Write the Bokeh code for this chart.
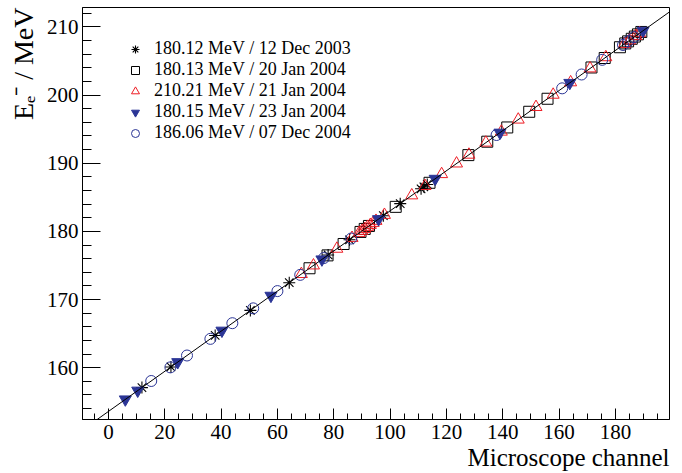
from bokeh.plotting import figure
from bokeh.models import Range1d, FixedTicker, Slope, Legend, LegendItem, Title
from bokeh.embed import file_html
from bokeh.resources import INLINE

# Calibration points: microscope channel vs. beam energy, one list pair per run
star_ch = [11.9, 22.2, 37.9, 50.4, 64.2, 78.0, 85.6, 97.6, 103.6, 111.0, 112.0, 113.2]
star_e = [157.08, 160.11, 164.73, 168.41, 172.47, 176.54, 178.77, 182.30, 184.07, 186.25, 186.54, 186.89]

square_ch = [71.4, 77.8, 83.5, 89.5, 91.0, 92.5, 102.0, 114.0, 127.8, 134.5, 141.6, 149.4,
             155.9, 171.5, 176.2, 181.6, 183.5, 184.5, 185.8, 186.9, 188.0, 189.2]
square_e = [174.59, 176.48, 178.15, 179.92, 180.36, 180.80, 183.60, 187.13, 191.19, 193.16, 195.25, 197.55,
            199.46, 204.05, 205.44, 207.02, 207.58, 207.88, 208.26, 208.59, 208.91, 209.26]

tri_ch = [68.5, 72.8, 81.1, 86.5, 89.0, 90.0, 91.0, 92.0, 93.0, 94.0, 95.0, 98.0, 107.7, 112.4,
          118.3, 123.6, 128.0, 134.0, 139.5, 145.5, 151.8, 157.9, 164.1, 171.0, 176.6, 183.2,
          185.0, 187.2, 188.6]
tri_e = [173.74, 175.00, 177.45, 179.04, 179.77, 180.07, 180.36, 180.66, 180.95, 181.24, 181.54, 182.42,
         185.28, 186.66, 188.40, 189.96, 191.25, 193.02, 194.63, 196.40, 198.25, 200.05, 201.87,
         203.91, 205.55, 207.50, 208.02, 208.67, 209.08]

inv_ch = [6.0, 10.4, 24.6, 40.3, 57.7, 75.8, 95.9, 116.0, 139.0, 163.8, 189.8]
inv_e = [155.35, 156.64, 160.82, 165.44, 170.56, 175.89, 181.80, 187.72, 194.49, 201.79, 209.44]

circ_ch = [15.2, 22.0, 27.9, 36.2, 44.0, 51.4, 60.0, 68.1, 76.5, 86.2, 137.8, 161.1, 168.0,
           175.3, 182.7, 184.6, 186.6]
circ_e = [158.05, 160.05, 161.79, 164.23, 166.53, 168.71, 171.24, 173.62, 176.09, 178.95, 194.14,
          200.99, 203.02, 205.17, 207.35, 207.91, 208.50]

series_labels = [
    "180.12 MeV / 12 Dec 2003",
    "180.13 MeV / 20 Jan 2004",
    "210.21 MeV / 21 Jan 2004",
    "180.15 MeV / 23 Jan 2004",
    "186.06 MeV / 07 Dec 2004",
]

# Linear calibration fit
fit_gradient = 0.2943
fit_intercept = 153.58

x_major = [0, 20, 40, 60, 80, 100, 120, 140, 160, 180]
y_major = [160, 170, 180, 190, 200, 210]

x_title = "Microscope channel"
y_title = "E\u2091\u207b / MeV"

SERIF = "Liberation Serif"
RED = "#ee1c24"
BLUE = "#2b3596"

p = figure(width=682, height=473, output_backend="svg", toolbar_location=None,
           x_range=Range1d(-9.2, 199.2), y_range=Range1d(152.4, 212.85),
           min_border_left=82, min_border_right=13, min_border_top=7, min_border_bottom=54)
p.xgrid.visible = False
p.ygrid.visible = False
p.outline_line_color = "black"
p.outline_line_width = 1
p.outline_line_alpha = 1
p.background_fill_color = "white"
p.border_fill_color = "white"

p.xaxis.ticker = FixedTicker(ticks=x_major, minor_ticks=list(range(-5, 200, 5)))
p.yaxis.ticker = FixedTicker(ticks=y_major, minor_ticks=list(range(154, 213, 2)))
for ax in (p.xaxis[0], p.yaxis[0]):
    ax.axis_line_color = "black"
    ax.major_tick_line_color = "black"
    ax.minor_tick_line_color = "black"
    ax.major_tick_out = 0
    ax.minor_tick_out = 0
    ax.major_label_text_font = SERIF
    ax.major_label_text_font_size = "21px"
    ax.major_label_text_color = "black"
p.xaxis.major_tick_in = 11
p.xaxis.minor_tick_in = 6
p.xaxis.major_label_standoff = 5
p.yaxis.major_tick_in = 18
p.yaxis.minor_tick_in = 9
p.yaxis.major_label_standoff = 4

r_star = p.scatter(star_ch, star_e, marker="asterisk", size=12, line_color="black", line_width=1.1)
r_sq = p.scatter(square_ch, square_e, marker="square", size=11, fill_color=None,
                 line_color="black", line_width=1)
r_tri = p.scatter(tri_ch, tri_e, marker="triangle", size=12, fill_color=None,
                  line_color=RED, line_width=1)
r_inv = p.scatter(inv_ch, inv_e, marker="inverted_triangle", size=12, fill_color=BLUE,
                  line_color=BLUE, line_width=1)
r_circ = p.scatter(circ_ch, circ_e, marker="circle", size=11, fill_color=None,
                   line_color=BLUE, line_width=1)

p.add_layout(Slope(gradient=fit_gradient, y_intercept=fit_intercept,
                   line_color="black", line_width=1))

# Legend anchored by its bottom-left corner, measured from the frame's bottom-left
legend = Legend(
    items=[LegendItem(label=lab, renderers=[r])
           for lab, r in zip(series_labels, [r_star, r_sq, r_tri, r_inv, r_circ])],
    location=(40, 275.6), padding=0, margin=0, spacing=0,
    glyph_width=26, glyph_height=20, label_standoff=6, label_height=20,
    label_text_font=SERIF, label_text_font_size="18px", label_text_color="black",
    border_line_color=None, background_fill_alpha=0,
)
p.add_layout(legend)

# Axis titles, pushed to the far end of each axis
p.add_layout(Title(text=x_title, align="right", text_font=SERIF, text_font_size="25px",
                   text_font_style="normal", text_color="black", standoff=0), "below")
p.add_layout(Title(text=y_title, align="right", text_font=SERIF, text_font_size="28px",
                   text_font_style="normal", text_color="black", standoff=10), "left")

open("out.html", "w").write(file_html(p, INLINE))
